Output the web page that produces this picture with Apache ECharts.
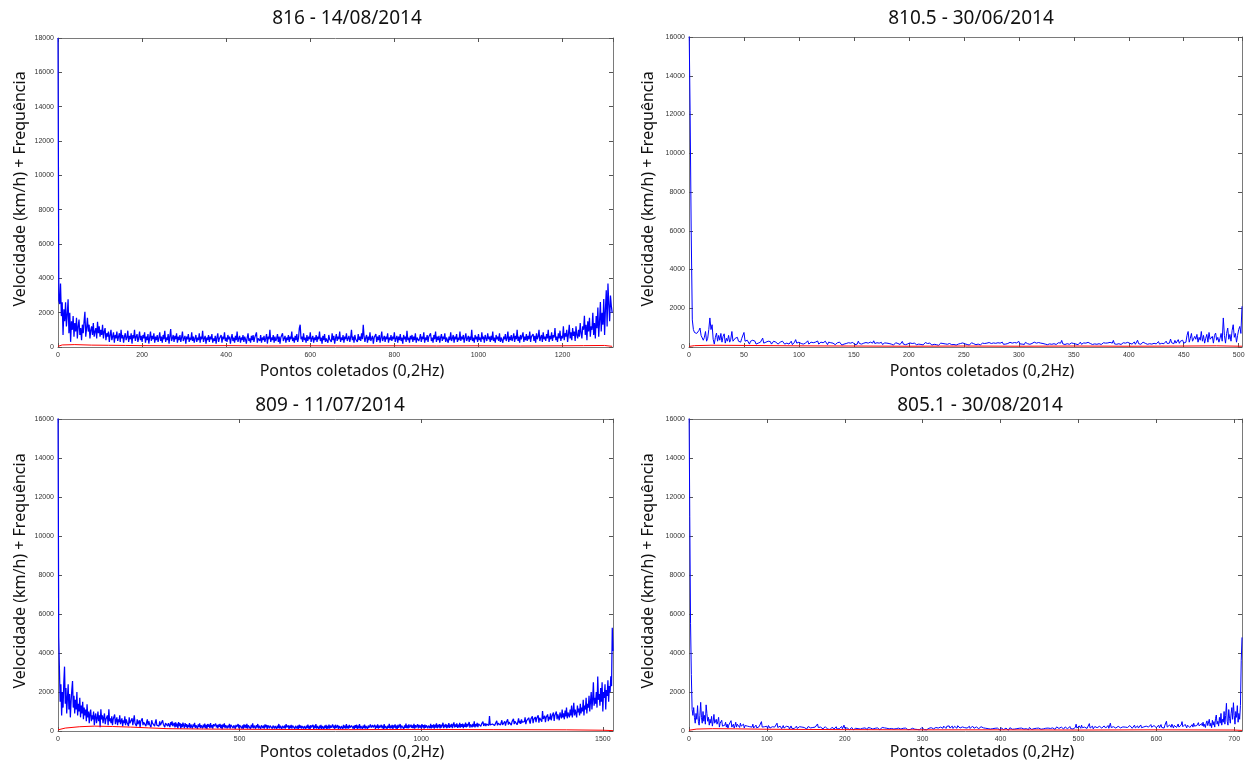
<!DOCTYPE html>
<html><head><meta charset="utf-8">
<script src="https://cdn.jsdelivr.net/npm/echarts@6/dist/echarts.min.js"></script>
<style>html,body{margin:0;padding:0;background:#fff}#c{width:1253px;height:764px}</style>
</head><body><div id="c"></div>
<script>
// ---------------- DATA ----------------
const titles = ["816 - 14/08/2014", "810.5 - 30/06/2014", "809 - 11/07/2014", "805.1 - 30/08/2014"];
const xAxisTitle = "Pontos coletados (0,2Hz)";
const yAxisTitle = "Velocidade (km/h) + Frequência";
const xMax = [1320, 503, 1528, 710];
const xInterval = [200, 50, 500, 100];
const yMax = [18000, 16000, 16000, 16000];
const yInterval = [2000, 2000, 2000, 2000];
const blueStep = [2, 1, 2, 1];   // spacing (in points) between the listed samples

// 816 - 14/08/2014 (every 2nd point, x = 0..1318)
const blue816 = [
18000,2700,2500,3700,1800,2600,700,2200,1500,2600,1200,1900,2780,800,2000,300,1500,1000,1800,600,
1400,900,1700,500,1200,1600,700,1100,400,1300,800,1500,2050,600,1100,1700,900,1300,500,1000,
1200,700,1400,600,900,1100,500,1470,800,1200,600,1000,700,1300,500,900,1100,400,800,600,
900,300,700,1000,400,600,850,250,700,500,900,350,600,800,300,1000,500,700,250,600,
800,400,550,950,300,650,450,800,200,700,500,1000,350,600,750,300,550,900,400,650,
300,700,500,850,250,600,400,750,200,550,900,350,650,450,800,250,600,400,700,300,
550,850,350,600,250,700,450,950,300,550,400,750,200,600,1050,350,500,700,300,650,
450,800,250,600,400,700,300,550,900,350,500,650,200,600,450,750,300,550,400,850,
350,600,250,500,700,300,550,400,800,250,600,450,950,300,500,650,200,550,400,700,
300,600,450,750,250,500,350,650,200,550,800,300,500,400,700,250,600,450,850,350,
550,300,700,450,600,200,500,750,350,550,250,650,400,900,300,500,650,250,550,400,
700,300,600,450,200,550,800,350,500,250,650,400,700,300,550,450,850,250,500,600,
350,700,250,550,400,650,300,500,750,200,600,450,1000,300,550,400,700,250,600,350,
500,750,300,600,200,550,450,800,350,500,650,250,550,400,700,300,600,450,900,350,
550,250,650,400,750,300,500,1100,1300,450,600,300,800,400,550,250,700,350,600,450,
850,300,500,650,250,550,400,700,300,600,450,900,350,550,200,650,400,750,300,500,
600,250,700,450,550,300,800,400,650,200,500,750,350,600,450,900,300,550,400,700,
250,600,450,800,350,500,650,300,550,1000,400,600,250,700,450,550,300,750,400,600,
350,800,450,1300,600,300,550,700,250,600,400,850,350,500,650,200,550,450,750,300,
600,400,700,250,550,900,350,500,650,300,600,450,800,250,550,400,700,350,600,450,
850,300,500,650,250,600,400,750,350,550,200,700,450,600,300,950,400,550,250,650,
450,700,300,600,400,800,250,550,650,350,500,750,300,600,450,850,250,550,400,700,
300,600,500,800,350,550,250,700,450,900,300,600,400,650,250,550,750,350,600,450,
800,300,550,650,250,600,400,850,350,500,700,250,600,450,750,300,550,400,900,350,
600,450,700,250,550,800,350,500,650,300,600,400,1000,350,550,250,700,450,600,300,
750,400,550,300,850,450,600,250,700,500,350,800,450,600,300,650,400,900,350,550,
250,700,450,600,350,800,300,550,650,250,600,450,750,350,500,900,300,600,400,700,
350,550,800,300,650,450,1000,350,600,250,700,450,550,850,300,600,400,750,350,650,
450,900,300,600,500,750,350,650,250,800,450,600,1000,350,550,700,300,850,450,600,
350,750,500,1000,300,650,450,850,350,700,550,1100,400,600,300,800,500,950,350,650,
500,1200,400,800,600,1000,300,750,1300,500,850,400,1100,650,900,350,1200,700,500,1000,
600,1400,800,500,1200,1000,1820,700,1300,400,1500,900,1700,600,1200,1000,2000,700,1400,500,
1800,1100,2300,600,1500,2620,900,2000,1300,2800,700,2200,3300,1200,3700,2500,1500,3000,2400,2000
];

// 810.5 - 30/06/2014 (every point, x = 0..503)
const blue8105 = [
17000,12200,6000,1400,900,750,820,700,600,850,
980,600,550,350,500,800,300,450,900,1500,
900,1150,400,150,500,720,300,600,350,700,
250,550,680,200,450,300,600,250,400,800,
300,200,450,350,500,300,400,250,450,500,
750,300,200,350,250,150,300,200,350,250,
300,150,250,200,300,250,350,460,200,300,
250,150,300,200,280,150,250,300,200,250,
300,150,200,250,180,300,220,150,250,200,
280,150,220,300,120,200,250,380,200,150,
250,300,180,220,150,250,200,280,320,150,
200,250,150,220,180,250,200,310,150,200,
250,180,220,150,300,200,120,250,180,220,
150,200,250,120,180,220,150,250,180,100,
200,150,250,180,120,220,160,200,130,240,
180,120,200,150,300,180,220,150,100,200,
160,230,130,200,180,250,150,200,320,180,
150,220,120,200,170,240,130,180,210,140,
200,120,180,230,150,200,100,170,220,140,
180,210,130,200,290,150,180,120,200,160,
130,210,150,180,100,200,160,120,220,150,
180,130,200,110,170,230,140,180,120,200,
150,100,180,140,200,120,170,90,160,200,
130,180,110,160,210,140,100,180,150,120,
200,130,170,100,190,150,120,180,140,210,
110,160,200,130,180,100,150,220,130,170,
200,120,180,150,230,110,170,200,140,180,
120,200,160,230,130,180,150,210,120,190,
160,220,130,200,170,250,140,190,150,220,
180,130,240,160,200,140,230,170,210,150,
290,160,220,150,200,130,240,290,170,200,
140,220,180,130,250,160,200,140,230,170,
200,130,180,240,150,210,120,190,160,230,
140,200,170,250,130,190,220,150,200,340,
160,220,130,200,170,240,140,190,210,130,
180,230,150,200,120,190,250,140,180,210,
130,200,160,240,140,180,220,130,190,160,
230,140,200,170,250,130,190,220,150,200,
140,210,170,240,150,200,340,160,220,140,
200,170,250,130,190,220,150,200,160,240,
140,190,220,150,200,260,140,210,350,170,
220,140,200,250,160,190,230,140,200,170,
260,150,210,190,240,160,200,280,150,220,
190,260,170,230,300,180,250,200,410,220,
280,170,340,200,260,380,190,300,230,350,
200,300,250,600,800,250,450,700,300,200,
550,400,650,250,500,350,800,300,600,200,
450,650,250,750,400,300,550,200,600,720,
350,500,250,450,700,300,1500,600,200,700,
980,400,650,300,850,1150,500,700,250,600,
900,1060,700,2100
];

// 809 - 11/07/2014 (every 2nd point, x = 0..1528)
const blue809 = [
17000,4800,3100,1500,2400,800,2000,1200,2500,3300,1400,2200,900,1700,2400,1100,1900,700,1500,2100,
2560,1200,1800,900,1600,1100,2000,800,1400,1000,1700,700,1300,900,1500,600,1200,800,1100,500,
1370,700,1000,400,900,1100,500,800,600,1000,300,750,900,400,650,1000,500,800,200,1110,
600,800,400,700,900,350,600,500,800,300,1110,500,650,400,750,300,600,500,850,350,
550,700,300,600,450,800,350,500,650,250,550,400,750,300,600,450,550,250,700,400,
500,350,650,300,550,800,400,500,250,600,350,450,550,200,500,400,650,300,450,350,
550,250,450,600,300,500,350,450,200,550,400,300,500,250,450,600,300,400,350,250,
500,300,400,250,550,350,450,200,400,300,500,250,400,350,200,450,300,500,250,350,
420,180,450,220,380,130,460,250,400,120,360,200,430,280,150,400,220,350,140,320,
200,400,150,330,380,120,340,230,420,160,300,380,110,340,220,390,150,300,360,130,
330,190,380,140,310,110,360,220,330,150,410,180,300,120,350,240,150,380,190,310,
130,330,220,370,150,310,100,340,200,390,150,300,350,130,290,180,370,120,310,210,
340,150,290,370,110,310,200,150,360,130,300,210,390,140,290,110,340,180,310,150,
370,120,290,190,340,110,310,170,390,140,280,340,120,300,180,360,130,270,320,110,
290,350,150,280,120,340,190,310,110,290,370,140,270,170,330,120,280,350,130,260,
320,110,280,150,360,130,270,310,100,260,330,150,280,120,350,180,130,290,100,270,
150,320,120,280,180,340,110,260,310,130,270,100,320,170,280,120,260,340,120,250,
300,110,270,150,330,120,260,90,300,180,130,320,110,270,150,350,120,260,300,100,
280,140,320,110,250,340,110,270,150,310,100,260,130,330,120,280,160,120,340,150,
270,110,320,160,130,300,90,260,330,120,250,290,110,320,150,270,120,350,140,260,
120,310,170,110,280,340,130,260,100,300,160,320,110,270,140,360,120,260,300,110,
270,150,330,120,260,310,100,280,160,130,340,170,110,300,180,140,320,110,270,160,
340,120,280,170,110,320,150,270,100,350,140,260,310,110,280,160,370,130,270,150,
310,100,290,170,340,130,270,110,320,160,140,360,120,280,180,330,110,290,160,380,
150,290,130,340,180,110,320,160,290,140,370,120,300,180,150,340,130,310,170,290,
130,350,180,300,120,330,160,290,390,140,280,320,150,370,130,300,180,340,120,320,
170,390,140,310,190,350,130,330,180,300,420,150,320,200,360,140,310,180,400,160,
330,200,370,150,320,440,180,340,210,390,160,330,190,420,170,350,220,380,150,340,
210,430,180,360,230,200,460,170,340,390,190,370,220,490,180,350,240,420,200,370,
280,420,240,350,300,480,260,330,390,250,360,300,450,280,770,310,400,270,360,320,
450,280,380,340,520,290,400,350,480,300,420,550,310,390,360,500,280,440,380,600,
330,460,400,550,300,480,420,620,350,500,440,580,320,470,650,400,520,360,600,450,
380,550,480,700,350,520,600,420,680,500,380,620,560,750,400,600,520,720,450,650,
550,800,430,680,600,750,480,1020,620,520,780,450,700,650,850,500,720,600,900,550,
750,680,950,520,800,700,1000,600,850,750,550,950,800,650,1100,700,900,600,1050,750,
1200,650,950,850,700,1100,800,1300,700,1000,1450,800,1100,900,700,1300,950,1150,800,1400,
900,1200,1000,1600,800,1300,1100,1700,900,1400,1200,1800,1000,1500,2000,1100,1600,2500,1300,1700,
1400,2000,1200,2800,1600,1900,1300,2200,1500,2500,1000,2000,1700,2400,1100,2100,1800,2600,1500,2300,
2000,2800,2300,5300,4100
];

// 805.1 - 30/08/2014 (every point, x = 0..710)
const blue8051 = [
17000,11000,5500,2900,1100,800,
1200,700,400,900,600,1300,500,300,800,1470,
700,400,1000,500,800,350,1340,900,500,700,
300,600,400,750,250,500,850,400,300,600,
350,500,700,200,400,300,550,250,350,200,
300,450,200,350,150,300,250,400,530,200,
300,350,150,280,450,200,350,250,300,180,
400,250,300,200,350,150,280,320,200,250,
180,300,220,150,280,200,350,150,250,200,
300,160,250,180,220,300,150,480,200,260,
150,220,300,180,240,130,280,200,150,250,
180,220,120,260,200,150,300,400,180,230,
140,250,190,120,220,280,150,200,130,240,
180,150,220,100,200,260,140,180,230,120,
200,160,250,130,190,110,220,170,140,200,
250,120,180,150,210,100,170,230,130,190,
160,220,120,180,270,140,200,150,240,360,
180,230,130,200,150,250,110,190,160,220,
130,180,100,200,150,80,170,120,200,140,
90,180,130,220,100,160,200,120,180,140,
230,110,170,300,140,200,90,160,120,190,
70,150,110,180,130,60,160,100,140,80,
170,120,60,150,100,190,80,140,110,60,
160,100,140,70,180,120,90,150,60,130,
100,170,80,140,60,120,160,90,130,70,
150,100,180,120,80,160,110,60,140,90,
170,110,150,80,130,60,160,100,140,70,
120,170,90,150,60,130,100,180,80,140,
110,60,150,90,130,70,170,120,80,150,
100,140,60,120,90,170,110,80,150,100,
60,140,120,180,90,150,70,130,110,60,
160,100,140,80,120,170,90,150,110,200,
130,180,100,220,150,250,120,200,170,230,
140,250,180,210,130,240,190,160,260,150,
220,180,250,130,200,240,160,210,140,270,
190,230,150,250,180,210,130,240,170,200,
260,150,220,180,240,130,200,170,250,190,
140,230,180,210,150,240,120,200,170,220,
130,190,160,110,180,140,80,160,120,60,
150,100,130,70,120,160,90,140,60,110,
150,80,130,50,110,160,90,140,70,120,
60,150,100,130,40,110,170,80,140,90,
60,130,100,150,70,120,180,90,140,60,
110,150,80,130,100,60,160,120,90,140,
70,180,110,150,80,130,60,120,160,90,
140,100,70,150,120,180,90,130,60,110,
160,100,140,200,110,150,80,170,130,220,
100,160,120,190,80,150,210,110,170,130,
90,160,200,120,180,100,150,210,130,170,
110,190,140,230,120,180,150,100,200,130,
180,350,150,220,120,260,180,140,300,170,
230,120,200,160,270,130,210,180,380,150,
220,170,250,110,190,230,140,280,170,210,
130,240,180,300,150,220,120,260,190,150,
230,170,280,140,210,400,180,240,130,220,
170,260,150,200,120,240,190,300,160,230,
140,210,270,170,200,130,250,180,220,150,
280,190,240,140,210,170,300,160,230,190,
260,150,220,180,310,170,240,140,210,280,
180,250,150,300,200,260,170,330,190,240,
150,280,210,350,170,260,200,300,160,240,
330,180,270,220,150,300,240,500,200,280,
170,310,230,190,350,260,150,290,210,330,
180,270,360,200,250,170,310,480,220,280,
190,340,250,160,300,220,370,180,280,230,
330,200,400,250,180,350,280,220,430,260,
310,200,380,270,450,230,340,180,400,520,
280,350,600,250,400,170,550,300,480,200,
650,820,350,500,250,700,400,900,300,600,
450,1000,350,800,1420,500,300,1100,650,400,
900,1200,600,1450,800,350,1000,700,1300,450,
900,600,1300,3600,4800
];

// red lines (sparse readings: x positions and values)
const red816X = [0, 10, 40, 80, 120, 160, 200, 300, 400, 500, 600, 700, 800, 900, 1000, 1100, 1200, 1250, 1300, 1318];
const red816Y = [40, 120, 140, 110, 100, 90, 80, 70, 80, 60, 70, 60, 70, 60, 70, 60, 70, 80, 90, 40];
const red8105X = [0, 5, 20, 50, 100, 150, 200, 250, 300, 350, 400, 450, 480, 503];
const red8105Y = [30, 70, 90, 80, 60, 50, 40, 50, 40, 50, 40, 50, 60, 40];
const red809X = [0, 20, 60, 100, 150, 200, 250, 300, 400, 600, 800, 1000, 1200, 1400, 1500, 1528];
const red809Y = [60, 150, 220, 250, 230, 200, 160, 120, 100, 80, 70, 80, 70, 60, 40, 20];
const red8051X = [0, 10, 30, 60, 100, 150, 200, 300, 400, 500, 600, 700, 710];
const red8051Y = [40, 100, 120, 110, 90, 80, 70, 60, 60, 50, 60, 50, 30];

// ---------------- CHART ----------------
const blues = [blue816, blue8105, blue809, blue8051];
const redsX = [red816X, red8105X, red809X, red8051X];
const redsY = [red816Y, red8105Y, red809Y, red8051Y];

const grids = [
  {left: 58, top: 38, width: 555, height: 309},
  {left: 689, top: 37, width: 553, height: 310},
  {left: 58, top: 419, width: 555, height: 312},
  {left: 689, top: 419, width: 553, height: 312}
];
const titlePos = [[347, 19], [971, 19], [330, 406], [980, 406]];
const xNamePos = [[352, 371], [982, 371], [352, 752], [982, 752]];
const yNamePos = [[20, 189], [648, 189], [20, 571], [648, 571]];
const blueWidth = [1.25, 1, 1.25, 1];

const axisLineColor = '#7a7a7a';
const tickStyle = {inside: true, length: 4, lineStyle: {color: '#555', width: 1}};
const labelStyle = {fontSize: 7, color: '#333', fontFamily: 'Liberation Sans', formatter: v => String(v)};

const xAxes = [], yAxes = [], series = [], graphics = [];
for (let g = 0; g < 4; g++) {
  const common = {type: 'value', gridIndex: g, min: 0, max: xMax[g], interval: xInterval[g],
    splitLine: {show: false}, axisLine: {show: true, onZero: false, lineStyle: {color: axisLineColor}}, axisTick: tickStyle};
  xAxes.push(Object.assign({}, common, {position: 'bottom',
    axisLabel: Object.assign({margin: 5, showMaxLabel: false, showMinLabel: true}, labelStyle)}));
  xAxes.push(Object.assign({}, common, {position: 'top', axisLabel: {show: false}}));
  const ycommon = {type: 'value', gridIndex: g, min: 0, max: yMax[g], interval: yInterval[g],
    splitLine: {show: false}, axisLine: {show: true, onZero: false, lineStyle: {color: axisLineColor}}, axisTick: tickStyle};
  yAxes.push(Object.assign({}, ycommon, {position: 'left',
    axisLabel: Object.assign({margin: 4, showMaxLabel: true, showMinLabel: true}, labelStyle)}));
  yAxes.push(Object.assign({}, ycommon, {position: 'right', axisLabel: {show: false}}));

  series.push({type: 'line', xAxisIndex: 2 * g, yAxisIndex: 2 * g, showSymbol: false, clip: true,
    data: blues[g].map((v, i) => [i * blueStep[g], v]),
    lineStyle: {color: '#0000ff', width: blueWidth[g]}, itemStyle: {color: '#0000ff'}, animation: false, silent: true});
  series.push({type: 'line', xAxisIndex: 2 * g, yAxisIndex: 2 * g, showSymbol: false, clip: true,
    data: redsX[g].map((x, i) => [x, redsY[g][i]]),
    lineStyle: {color: '#ff0000', width: 1}, itemStyle: {color: '#ff0000'}, animation: false, silent: true});

  graphics.push({type: 'text', x: titlePos[g][0], y: titlePos[g][1],
    style: {text: titles[g], font: '19px "Noto Sans"', fill: '#111', align: 'center', verticalAlign: 'middle'}});
  graphics.push({type: 'text', x: xNamePos[g][0], y: xNamePos[g][1],
    style: {text: xAxisTitle, font: '16px "Noto Sans"', fill: '#111', align: 'center', verticalAlign: 'middle'}});
  graphics.push({type: 'text', x: yNamePos[g][0], y: yNamePos[g][1], rotation: Math.PI / 2,
    style: {text: yAxisTitle, font: '16px "Noto Sans"', fill: '#111', align: 'center', verticalAlign: 'middle'}});
}

const chart = echarts.init(document.getElementById('c'), null, {renderer: 'canvas'});
chart.setOption({
  animation: false,
  backgroundColor: '#ffffff',
  grid: grids,
  xAxis: xAxes,
  yAxis: yAxes,
  series: series,
  graphic: graphics
});
</script>
</body></html>
